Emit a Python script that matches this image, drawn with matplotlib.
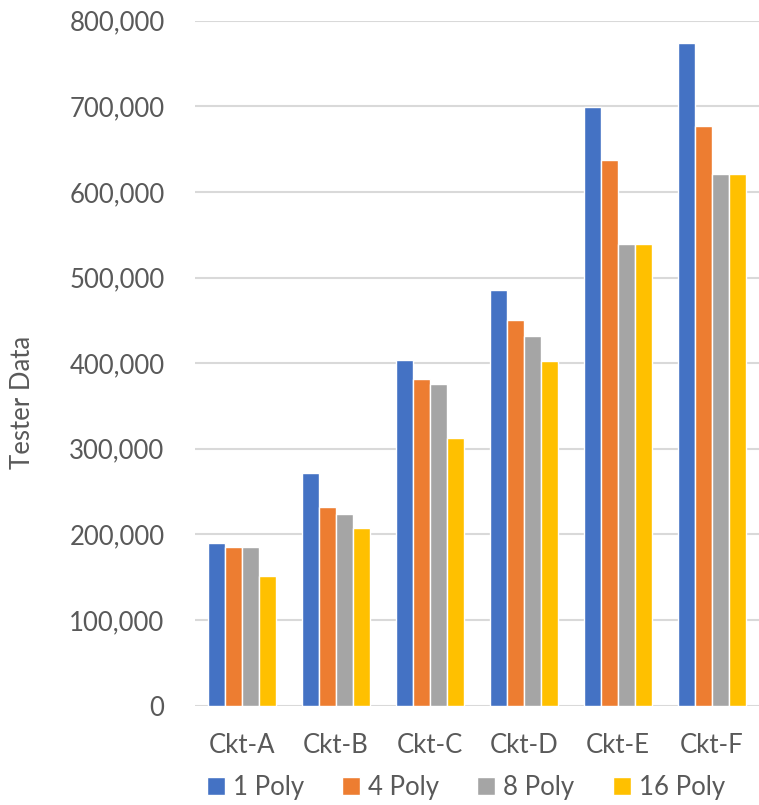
import numpy as np
import matplotlib.pyplot as plt
from matplotlib.ticker import FuncFormatter

circuits = ["Ckt-A", "Ckt-B", "Ckt-C", "Ckt-D", "Ckt-E", "Ckt-F"]
series_names = ["1 Poly", "4 Poly", "8 Poly", "16 Poly"]
poly1 = [190000, 272000, 404000, 485000, 699000, 774000]
poly4 = [185000, 232000, 382000, 450000, 637000, 677000]
poly8 = [185000, 224000, 376000, 432000, 539000, 621000]
poly16 = [151000, 207000, 312000, 402000, 539000, 621000]
colors = ["#4472C4", "#ED7D31", "#A5A5A5", "#FFC000"]

plt.rcParams['font.family'] = ['Lato', 'DejaVu Sans']
text_color = "#595959"

fig = plt.figure(figsize=(7.59, 8.05), dpi=100)
ax = fig.add_axes([0.257, 0.1234, 0.743, 0.851])

x = np.arange(len(circuits))
width = 0.18
for i, (vals, name) in enumerate(zip([poly1, poly4, poly8, poly16], series_names)):
    ax.bar(x + (i - 1.5) * width, vals, width, color=colors[i], label=name,
           edgecolor="white", linewidth=1, zorder=3)

ax.set_xlim(-0.5, 5.5)
ax.set_ylim(0, 800000)
ax.set_yticks(np.arange(0, 800001, 100000))
ax.yaxis.set_major_formatter(FuncFormatter(lambda v, p: f"{int(v):,}"))
ax.set_xticks(x)
ax.set_xticklabels(circuits)
ax.grid(axis="y", color="#d9d9d9", linewidth=1.5, zorder=0)
for s in ax.spines.values():
    s.set_visible(False)
ax.tick_params(length=0, labelsize=18.5, colors=text_color)
ax.tick_params(axis="x", pad=20)
ax.tick_params(axis="y", pad=22)

# y label placed in figure coords so it sits at the left edge
fig.text(0.03, 0.5, "Tester Data", rotation=90, fontsize=18.5, color=text_color,
         ha="center", va="center")

ax.legend(loc="upper center", bbox_to_anchor=(0.48, -0.068), ncol=4, frameon=False,
          fontsize=18.5, labelcolor=text_color, handlelength=0.7, handleheight=0.7,
          handletextpad=0.3, columnspacing=1.5)

fig.savefig("out.png", dpi=100)
